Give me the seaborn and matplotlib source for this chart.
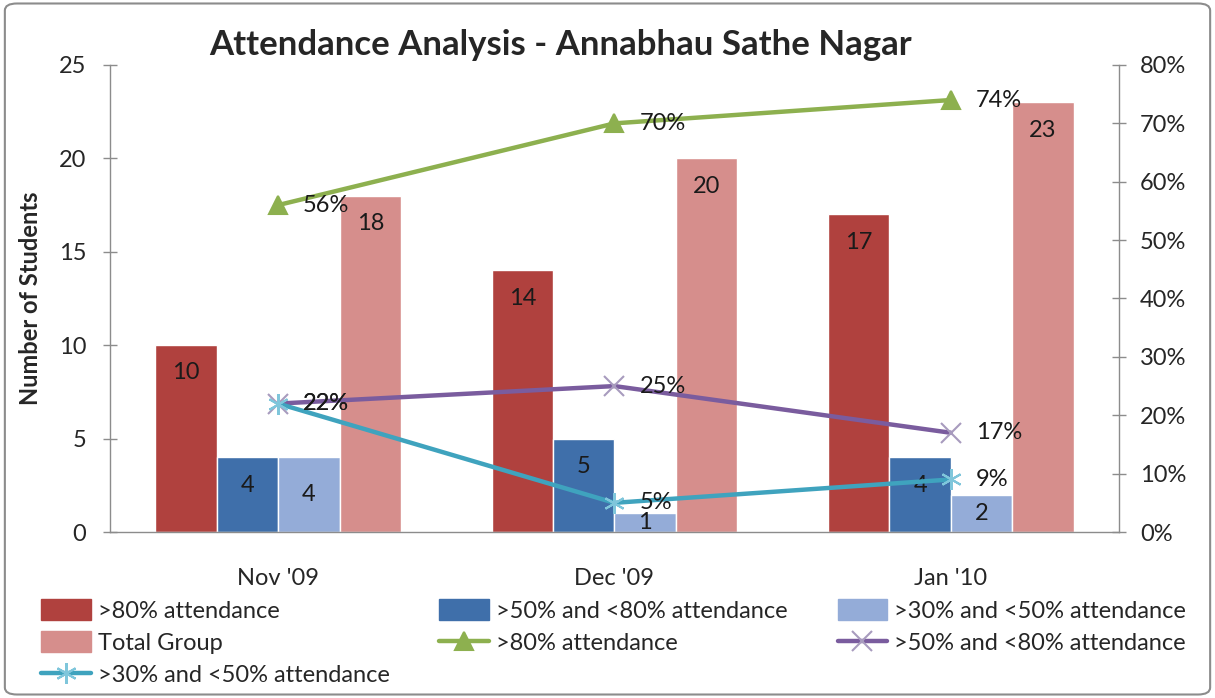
import numpy as np
import pandas as pd
import matplotlib.pyplot as plt
import matplotlib.patches as mpatches
import seaborn as sns

months = ["Nov '09", "Dec '09", "Jan '10"]
bar_series = [">80% attendance", ">50% and <80% attendance",
              ">30% and <50% attendance", "Total Group"]
above80 = [10, 14, 17]
mid50_80 = [4, 5, 4]
mid30_50 = [4, 1, 2]
total = [18, 20, 23]

pct_above80 = [0.56, 0.70, 0.74]
pct_50_80 = [0.22, 0.25, 0.17]
pct_30_50 = [0.22, 0.05, 0.09]

bar_colors = ["#B0413E", "#3F6FAA", "#94ACD8", "#D68E8C"]
line_colors = ["#8DB04F", "#7A5C9E", "#3FA3BE"]
marker_colors = ["#8DB04F", "#A89BBE", "#7FC6DB"]

FS = 17

sns.set_theme(style="white")
plt.rcParams["font.family"] = ["Lato", "DejaVu Sans"]

df = pd.DataFrame({
    "month": months * 4,
    "count": above80 + mid50_80 + mid30_50 + total,
    "series": [s for s in bar_series for _ in months],
})

fig = plt.figure(figsize=(12.15, 6.98), dpi=100)
ax = fig.add_axes([0.0905, 0.2378, 0.8305, 0.6691])

sns.barplot(data=df, x="month", y="count", hue="series", hue_order=bar_series,
            palette=bar_colors, saturation=1, width=0.73, ax=ax, errorbar=None)
ax.get_legend().remove()

# value labels inside bars
for ci, cont in enumerate(ax.containers):
    for bar in cont:
        h = bar.get_height()
        xc = bar.get_x() + bar.get_width() / 2
        if ci == 2:
            ax.text(xc, h / 2, f"{h:.0f}", ha="center", va="center",
                    fontsize=FS, color="#1a1a1a")
        else:
            ax.annotate(f"{h:.0f}", (xc, h), xytext=(0, -20),
                        textcoords="offset points", ha="center", va="center",
                        fontsize=FS, color="#1a1a1a")

ax.set_ylim(0, 25)
ax.set_yticks(range(0, 26, 5))
ax.set_xlim(-0.5, 2.5)
ax.set_xlabel("")
ax.set_ylabel("Number of Students", fontsize=FS, fontweight="bold", labelpad=12)

ax2 = ax.twinx()
pos = np.arange(len(months))
line_data = [pct_above80, pct_50_80, pct_30_50]
markers = ["^", "x", (6, 2, 0)]
msizes = [13, 14, 15]
line_handles = []
for vals, lc, mc, mk, ms in zip(line_data, line_colors, marker_colors, markers, msizes):
    sns.lineplot(x=pos, y=vals, ax=ax2, color=lc, linewidth=3.2, marker=mk,
                 markersize=ms, markerfacecolor=mc, markeredgecolor=mc,
                 markeredgewidth=1.5)
    line_handles.append(ax2.lines[-1])
    for x, v in zip(pos, vals):
        ax2.annotate(f"{v:.0%}", (x, v), xytext=(18, 0), textcoords="offset points",
                     ha="left", va="center", fontsize=FS, color="#1a1a1a")

ax2.set_ylim(0, 0.8)
ax2.set_yticks(np.arange(0, 0.81, 0.1))
ax2.set_yticklabels([f"{int(round(t * 100))}%" for t in np.arange(0, 0.81, 0.1)])
ax2.set_xlim(-0.5, 2.5)

for a in (ax, ax2):
    a.spines["top"].set_visible(False)
    for s in ("left", "right", "bottom"):
        a.spines[s].set_color("#8c8c8c")
        a.spines[s].set_linewidth(1)
ax2.spines["left"].set_visible(False)
ax2.spines["bottom"].set_visible(False)
ax.spines["right"].set_visible(False)

ax.tick_params(axis="y", direction="inout", length=10, width=1, color="#8c8c8c",
               labelsize=FS, pad=12, left=True)
ax.tick_params(axis="x", length=0, labelsize=FS, pad=26)
ax2.tick_params(axis="y", direction="inout", length=10, width=1, color="#8c8c8c",
                labelsize=FS, pad=10, right=True)

fig.text(0.461, 0.935, "Attendance Analysis - Annabhau Sathe Nagar",
         ha="center", va="center", fontsize=25, fontweight="bold")

bar_handles = [mpatches.Patch(color=c) for c in bar_colors]
labels_all = bar_series + [">80% attendance", ">50% and <80% attendance",
                           ">30% and <50% attendance"]
handles_all = bar_handles + line_handles
order = [0, 3, 6, 1, 4, 2, 5]
fig.legend([handles_all[i] for i in order], [labels_all[i] for i in order],
           ncol=3, loc="upper left", bbox_to_anchor=(0.026, 0.0, 0.958, 0.155),
           mode="expand", frameon=False, fontsize=FS, handlelength=2.1,
           handleheight=1.0, handletextpad=0.3, labelspacing=0.4,
           borderaxespad=0)

fig.patches.append(mpatches.FancyBboxPatch((0.004, 0.005), 0.992, 0.99,
                   boxstyle="round,pad=0,rounding_size=0.01",
                   transform=fig.transFigure, fill=False,
                   edgecolor="#8c8c8c", linewidth=1.5))

fig.savefig("out.png", dpi=100)
